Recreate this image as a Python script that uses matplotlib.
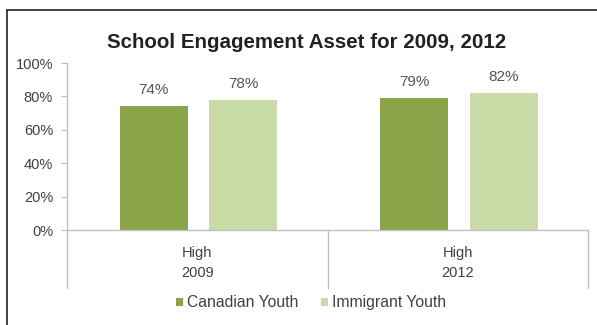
import matplotlib
matplotlib.use("Agg")
import matplotlib.pyplot as plt
from matplotlib.lines import Line2D
from matplotlib.patches import Patch
import numpy as np

plt.rcParams['font.family'] = ['Liberation Sans', 'DejaVu Sans']

years = ["2009", "2012"]
level = "High"
series = ["Canadian Youth", "Immigrant Youth"]
canadian = [74, 79]
immigrant = [78, 82]
yticks = [0, 20, 40, 60, 80, 100]

colors = ["#8aa44a", "#c9dba6"]
axis_gray = "#bfbfbf"
text_gray = "#404040"

fig = plt.figure(figsize=(5.97, 3.25), dpi=100)
ax = fig.add_axes([0.1122, 0.2923, 0.8728, 0.5138])

x = np.arange(len(years))
width = 0.26
offsets = [-0.167, 0.176]
for vals, off, col, name in zip([canadian, immigrant], offsets, colors, series):
    bars = ax.bar(x + off, vals, width=width, color=col, label=name, zorder=2)
    for b, v in zip(bars, vals):
        ax.text(b.get_x() + b.get_width() / 2, v + 5.5, f"{v}%",
                ha="center", va="bottom", fontsize=11, color="#555555")

ax.set_xlim(-0.5, 1.5)
ax.set_ylim(0, 100)
ax.set_yticks(yticks)
ax.set_yticklabels([f"{t}%" for t in yticks], fontsize=10.5, color=text_gray)
ax.tick_params(axis="y", length=4, color=axis_gray, pad=6)
ax.set_xticks([])

for side in ["top", "right"]:
    ax.spines[side].set_visible(False)
for side in ["left", "bottom"]:
    ax.spines[side].set_color(axis_gray)
    ax.spines[side].set_linewidth(1.0)

# category separators below the axis
trans = ax.get_xaxis_transform()
for xs in [-0.5, 0.5, 1.5]:
    ax.add_line(Line2D([xs, xs], [0, -0.35], transform=trans, color=axis_gray,
                       lw=1.0, clip_on=False))

for xi, yr in zip(x, years):
    ax.text(xi, -0.135, level, transform=trans, ha="center", va="center",
            fontsize=10.5, color=text_gray)
    ax.text(xi, -0.26, yr, transform=trans, ha="center", va="center",
            fontsize=10.5, color=text_gray)

fig.text(0.514, 0.87, "School Engagement Asset for 2009, 2012",
         ha="center", va="center", fontsize=14.8, fontweight="bold", color="#222222")

handles = [Patch(facecolor=c, edgecolor="none") for c in colors]
fig.legend(handles, series, loc="center", bbox_to_anchor=(0.521, 0.068), ncol=2,
           frameon=False, fontsize=11.3, handlelength=0.45, handleheight=0.45,
           handletextpad=0.25, columnspacing=1.5, labelcolor=text_gray)

# outer frame
fig.add_artist(Line2D([7 / 597, 1.0], [1 - 10 / 325, 1 - 10 / 325],
                      transform=fig.transFigure, color="#333333", lw=1.3))
fig.add_artist(Line2D([7 / 597, 7 / 597], [0, 1 - 10 / 325],
                      transform=fig.transFigure, color="#333333", lw=1.3))

fig.savefig("out.png", dpi=100)
